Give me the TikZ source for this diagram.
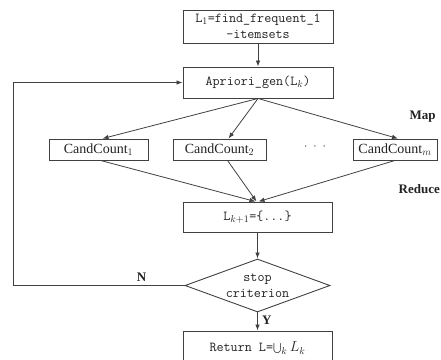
\documentclass[tikz,border=0pt]{standalone}
\usepackage{fontspec}
\setmainfont{Liberation Serif}
\usetikzlibrary{shapes.geometric,arrows.meta}
\definecolor{linegray}{HTML}{404040}
\definecolor{inkgray}{HTML}{222222}
\begin{document}
\begin{tikzpicture}[x=1pt,y=-1pt,
  every node/.style={text=inkgray},
  monotext/.style={font=\fontsize{13.7}{16}\ttfamily},
  serifbox/.style={draw=linegray,line width=0.9pt,rectangle,inner sep=0pt,
    font=\fontsize{14}{16}\selectfont},
  codebox/.style={draw=linegray,line width=0.9pt,rectangle,inner sep=0pt,monotext},
  decision/.style={draw=linegray,line width=0.9pt,diamond,inner sep=0pt,
    shape aspect=2.7,minimum width=145pt,minimum height=53pt,align=center,monotext},
  flow/.style={draw=linegray,line width=0.8pt,-{Latex[length=6pt,width=4.5pt]}},
  tag/.style={font=\fontsize{13}{15}\bfseries\selectfont}]
\useasboundingbox (0,0) rectangle (441,359);

% main column
\node[codebox,minimum width=150pt,minimum height=33pt,align=center]
  (init) at (258,26.5) {L$_1$=find\_frequent\_1\\-itemsets};
\node[codebox,minimum width=150pt,minimum height=31pt]
  (gen) at (258,82.5) {Apriori\_gen(L$_k$)};

% map workers
\node[serifbox,minimum width=99pt,minimum height=21pt]
  (cc1) at (98.5,149.5) {CandCount$_1$};
\node[serifbox,minimum width=93pt,minimum height=21pt]
  (cc2) at (219.5,149.5) {CandCount$_2$};
\node[serifbox,minimum width=84pt,minimum height=21pt]
  (ccm) at (395,149.5) {CandCount$_m$};
\node (dots) at (315,147) {\fontsize{13}{14}\selectfont$\cdot\;\cdot\;\cdot$};

% reduce result and loop test
\node[codebox,minimum width=149pt,minimum height=30pt]
  (lnext) at (257.5,217) {L$_{k+1}$=\{...\}};
\node[decision] (stop) at (257.5,285.5) {stop\\criterion};
\node[codebox,minimum width=149pt,minimum height=34pt]
  (ret) at (257.5,348) {Return L=$\bigcup\nolimits_k L_k$};

% phase labels
\node[tag,anchor=west] (map) at (406,117) {Map};
\node[tag,anchor=east,inner sep=1pt] (reduce) at (441,189) {Reduce};

% connectors
\draw[flow] (init) -- (gen);
\draw[flow] (gen.south) -- ([xshift=4pt]cc1.north);
\draw[flow] (gen.south) -- ([xshift=9pt]cc2.north);
\draw[flow] (gen.south) -- ([xshift=3pt]ccm.north);
\draw[flow] ([xshift=2pt]cc1.south) -- ([xshift=-2pt]lnext.north);
\draw[flow] ([xshift=8pt]cc2.south) -- ([xshift=-1pt]lnext.north);
\draw[flow] (ccm.south) -- ([xshift=1pt]lnext.north);
\draw[flow] (lnext) -- (stop);
\draw[flow] (stop) -- node[tag,right,pos=0.45,xshift=1pt] (yes) {Y} (ret);

\coordinate (loopb) at (13,285.5);
\coordinate (loopt) at (13,82.5);
\draw[flow] (stop.west) -- node[tag,above,pos=0.25] (no) {N} (loopb) -- (loopt) -- (gen.west);
\end{tikzpicture}
\end{document}
